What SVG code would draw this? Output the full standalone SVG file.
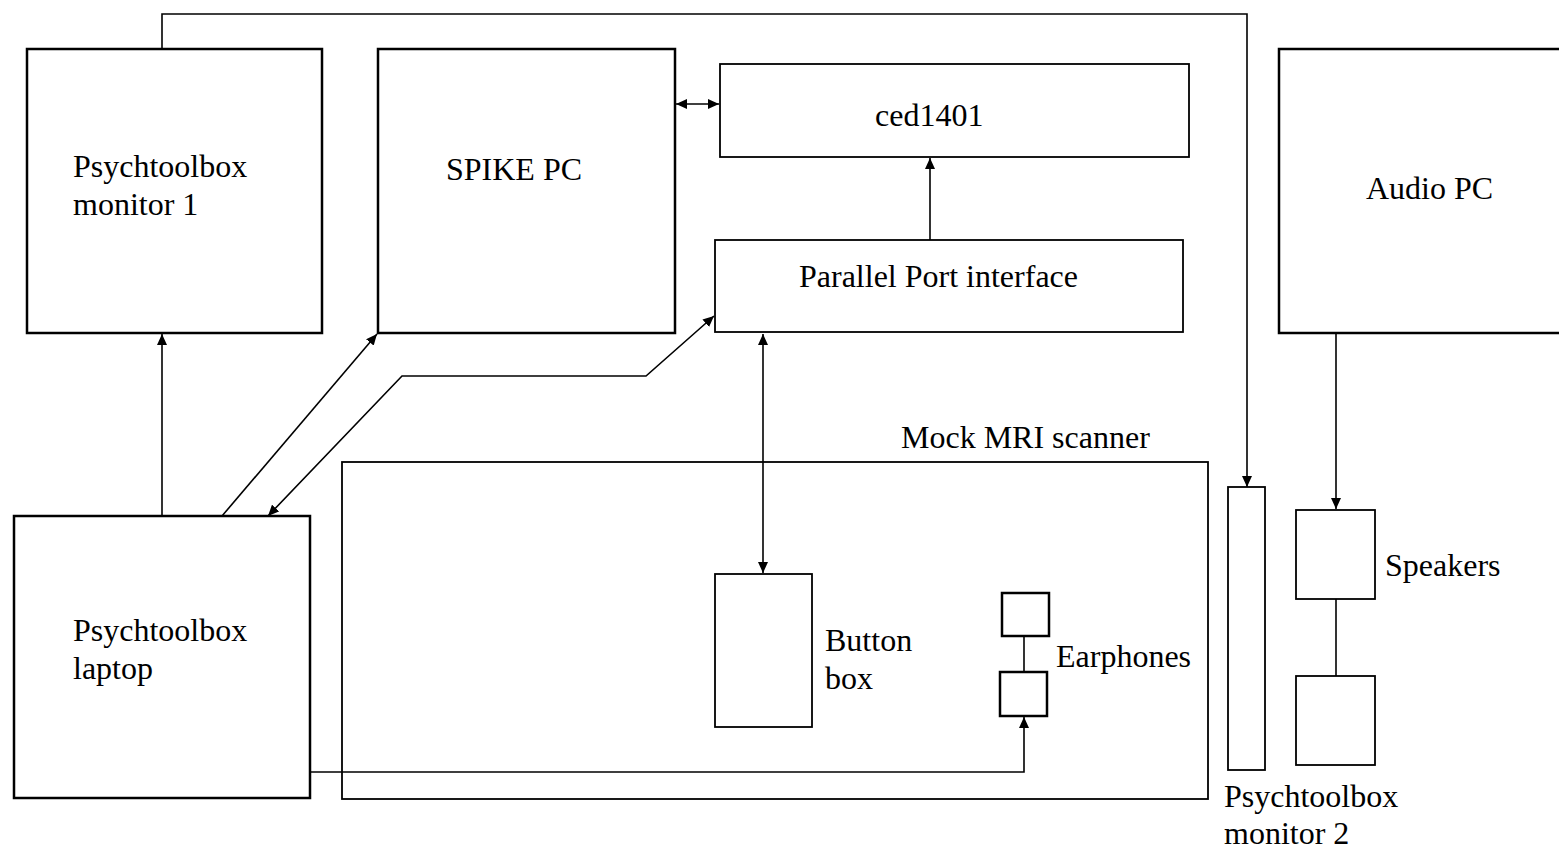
<svg xmlns="http://www.w3.org/2000/svg" width="1559" height="849" viewBox="0 0 1559 849">
<style>
.big{fill:#fff;stroke:#000;stroke-width:2.5}
.box{fill:#fff;stroke:#000;stroke-width:1.8}
.c{fill:none;stroke:#000;stroke-width:1.6}
text{font-family:"Liberation Serif","Times New Roman",serif;font-size:32px;fill:#000}
</style>
<defs>
<marker id="a" markerUnits="userSpaceOnUse" markerWidth="12" markerHeight="10" refX="11" refY="5" orient="auto-start-reverse">
<path d="M0,0 L11,5 L0,10 z" fill="#000"/>
</marker>
</defs>
<rect width="1559" height="849" fill="#fff"/>
<g id="mock-mri">
<rect class="box" x="342" y="462" width="866" height="337"/>
<text x="901" y="448">Mock MRI scanner</text>
</g>
<g id="monitor1">
<rect class="big" x="27" y="49" width="295" height="284"/>
<text x="73" y="177">Psychtoolbox</text>
<text x="73" y="215">monitor 1</text>
</g>
<g id="spike-pc">
<rect class="big" x="378" y="49" width="297" height="284"/>
<text x="446" y="180">SPIKE PC</text>
</g>
<g id="ced1401">
<rect class="box" x="720" y="64" width="469" height="93"/>
<text x="875" y="126">ced1401</text>
</g>
<g id="parallel-port">
<rect class="box" x="715" y="240" width="468" height="92"/>
<text x="799" y="287">Parallel Port interface</text>
</g>
<g id="audio-pc">
<rect class="big" x="1279" y="49" width="290" height="284"/>
<text x="1366" y="199">Audio PC</text>
</g>
<g id="laptop">
<rect class="big" x="14" y="516" width="296" height="282"/>
<text x="73" y="641">Psychtoolbox</text>
<text x="73" y="679">laptop</text>
</g>
<g id="button-box">
<rect class="box" x="715" y="574" width="97" height="153"/>
<text x="825" y="651">Button</text>
<text x="825" y="689">box</text>
</g>
<g id="earphones">
<rect class="big" x="1002" y="593" width="47" height="43"/>
<rect class="big" x="1000" y="672" width="47" height="44"/>
<line class="c" x1="1024" y1="636" x2="1024" y2="672"/>
<text x="1056" y="667">Earphones</text>
</g>
<g id="monitor2">
<rect class="box" x="1228" y="487" width="37" height="283"/>
<text x="1224" y="807">Psychtoolbox</text>
<text x="1224" y="844">monitor 2</text>
</g>
<g id="speakers">
<rect class="box" x="1296" y="510" width="79" height="89"/>
<rect class="box" x="1296" y="676" width="79" height="89"/>
<line class="c" x1="1336" y1="599" x2="1336" y2="676"/>
<text x="1385" y="576">Speakers</text>
</g>
<g id="connectors">
<polyline class="c" points="162,49 162,14 1247,14 1247,487" marker-end="url(#a)"/>
<line class="c" x1="162" y1="516" x2="162" y2="334" marker-end="url(#a)"/>
<line class="c" x1="222" y1="516" x2="377" y2="334" marker-end="url(#a)"/>
<polyline class="c" points="268,516 402,376 646,376 714,316" marker-start="url(#a)" marker-end="url(#a)"/>
<line class="c" x1="676" y1="104" x2="719" y2="104" marker-start="url(#a)" marker-end="url(#a)"/>
<line class="c" x1="930" y1="240" x2="930" y2="158" marker-end="url(#a)"/>
<line class="c" x1="763" y1="334" x2="763" y2="573" marker-start="url(#a)" marker-end="url(#a)"/>
<line class="c" x1="1336" y1="333" x2="1336" y2="509" marker-end="url(#a)"/>
<polyline class="c" points="310,772 1024,772 1024,717" marker-end="url(#a)"/>
</g>
</svg>
